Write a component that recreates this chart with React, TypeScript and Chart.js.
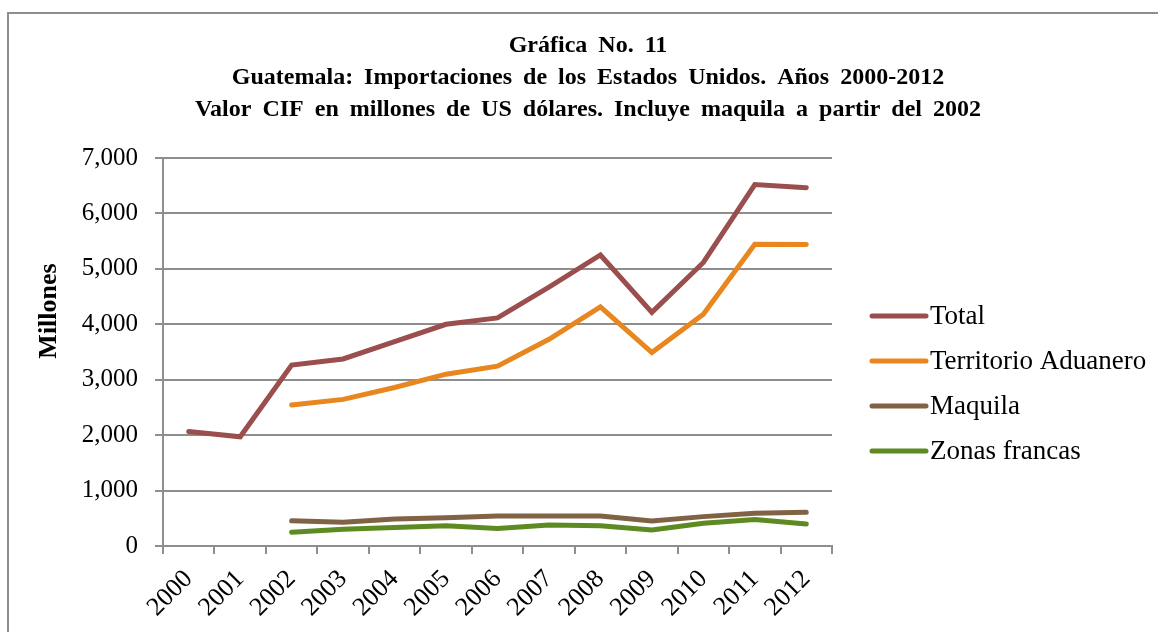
import React, { useEffect, useRef } from "react";
import { Chart, registerables } from "chart.js";

Chart.register(...registerables);

const years = ["2000", "2001", "2002", "2003", "2004", "2005", "2006", "2007", "2008", "2009", "2010", "2011", "2012"];
const total = [2065, 1970, 3265, 3375, 3685, 4000, 4115, 4670, 5250, 4215, 5115, 6520, 6465];
const territorio = [null, null, 2545, 2645, 2860, 3100, 3245, 3730, 4315, 3490, 4180, 5445, 5440];
const maquila = [null, null, 456, 428, 485, 510, 541, 541, 541, 451, 530, 590, 608];
const zonas = [null, null, 247, 300, 332, 367, 318, 378, 367, 289, 409, 480, 398];
const yTicks = [0, 1000, 2000, 3000, 4000, 5000, 6000, 7000];

const titleLines = [
  "Gráfica No. 11",
  "Guatemala: Importaciones de los Estados Unidos. Años 2000-2012",
  "Valor CIF en millones de US dólares. Incluye maquila a partir del 2002",
];
const yAxisTitle = "Millones";
const seriesNames = ["Total", "Territorio Aduanero", "Maquila", "Zonas francas"];
const seriesColors = ["#9A4E4E", "#E8871F", "#806245", "#5E8A22"];

const FONT = "'Liberation Serif', 'Times New Roman', Times, serif";
const GRID = "#8e8e8e";

const decorPlugin = {
  id: "decor",
  afterDraw(chart: any) {
    const ctx = chart.ctx;
    const area = chart.chartArea;
    ctx.save();
    // Title
    ctx.fillStyle = "#000";
    ctx.font = `bold 24px ${FONT}`;
    ctx.textAlign = "center";
    ctx.textBaseline = "middle";
    try { (ctx as any).wordSpacing = "5px"; } catch (e) {}
    titleLines.forEach((t, i) => {
      ctx.fillText(t, 588, 46 + i * 32);
    });
    try { (ctx as any).wordSpacing = "0px"; } catch (e) {}
    // Y axis title
    ctx.save();
    ctx.translate(49, area.top + 153);
    ctx.rotate(-Math.PI / 2);
    ctx.font = `bold 26px ${FONT}`;
    ctx.fillText(yAxisTitle, 0, 0);
    ctx.restore();
    // Legend
    const x0 = area.right + 40;
    const lineLen = 54;
    const yStart = area.top + 158;
    const gap = 45;
    ctx.font = `27px ${FONT}`;
    ctx.textBaseline = "middle";
    ctx.textAlign = "left";
    chart.data.datasets.forEach((ds: any, i: number) => {
      const y = yStart + i * gap;
      ctx.strokeStyle = ds.borderColor;
      ctx.lineWidth = 5;
      ctx.lineCap = "round";
      ctx.beginPath();
      ctx.moveTo(x0, y);
      ctx.lineTo(x0 + lineLen, y);
      ctx.stroke();
      ctx.fillStyle = "#000";
      ctx.fillText(ds.label, x0 + lineLen + 4, y + 1);
    });
    ctx.restore();
  },
};

export default function App() {
  const ref = useRef<HTMLCanvasElement | null>(null);

  useEffect(() => {
    document.body.style.margin = "0";
    const series = [total, territorio, maquila, zonas];
    const chart = new Chart(ref.current as HTMLCanvasElement, {
      type: "line",
      data: {
        labels: years,
        datasets: series.map((d, i) => ({
          label: seriesNames[i],
          data: d,
          borderColor: seriesColors[i],
          backgroundColor: seriesColors[i],
          borderWidth: 5,
          pointRadius: 0,
          tension: 0,
          borderCapStyle: "round",
          spanGaps: false,
        })),
      },
      options: {
        responsive: false,
        animation: false,
        devicePixelRatio: 1,
        layout: { padding: { left: 0, right: 326, top: 158, bottom: 0 } },
        plugins: {
          legend: { display: false },
          tooltip: { enabled: false },
          title: { display: false },
        },
        scales: {
          x: {
            type: "category",
            offset: true,
            grid: {
              offset: true,
              drawOnChartArea: false,
              drawTicks: true,
              tickLength: 8,
              color: GRID,
              lineWidth: 2,
            },
            border: { color: GRID, width: 2 },
            ticks: {
              autoSkip: false,
              minRotation: 45,
              maxRotation: 45,
              padding: 10,
              color: "#000",
              font: { family: FONT, size: 26 },
            },
            afterFit: (s: any) => {
              s.height = 86;
            },
          },
          y: {
            min: 0,
            max: 7000,
            afterBuildTicks: (s: any) => {
              s.ticks = yTicks.map((v) => ({ value: v }));
            },
            ticks: {
              padding: 17,
              color: "#000",
              font: { family: FONT, size: 25 },
              callback: (v: any) => Number(v).toLocaleString("en-US"),
            },
            grid: { color: GRID, lineWidth: 2, tickLength: 8 },
            border: { color: GRID, width: 2 },
            afterFit: (s: any) => {
              s.width = 163;
            },
          },
        },
      },
      plugins: [decorPlugin],
    } as any);
    return () => chart.destroy();
  }, []);

  return (
    <div style={{ position: "fixed", left: 0, top: 0, width: 1158, height: 632, background: "#fff", overflow: "hidden" }}>
      <div
        style={{
          position: "absolute",
          left: 7,
          top: 12,
          width: 1200,
          height: 700,
          border: "2px solid #8e8e8e",
          boxSizing: "border-box",
        }}
      />
      <canvas ref={ref} width={1158} height={632} style={{ position: "absolute", left: 0, top: 0, width: 1158, height: 632 }} />
    </div>
  );
}
